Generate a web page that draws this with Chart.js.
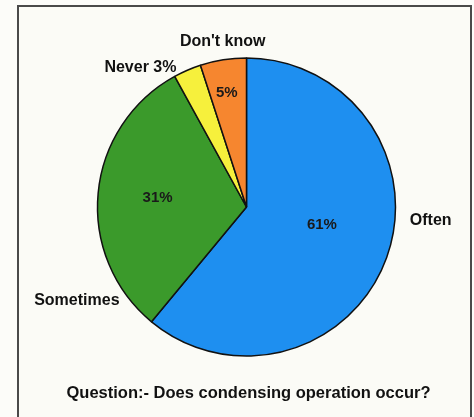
<!DOCTYPE html>
<html>
<head>
<meta charset="utf-8">
<script src="https://cdn.jsdelivr.net/npm/chart.js@4.4.0/dist/chart.umd.min.js"></script>
<style>
  html, body { margin: 0; padding: 0; background: #fcfcf9; }
  #wrap { position: relative; width: 474px; height: 417px; overflow: hidden; }
  #frame {
    position: absolute; left: 17px; top: 5px; width: 455px; height: 420px;
    border: 2px solid #4a4a4a; box-sizing: border-box; background: #fbfbf6;
  }
  canvas { position: absolute; left: 0; top: 0; }
</style>
</head>
<body>
<div id="wrap">
  <div id="frame"></div>
  <canvas id="pieChart" width="474" height="417"></canvas>
</div>
<script>
// Survey answers, clockwise from 12 o'clock
const categories = ['Often', 'Sometimes', 'Never', "Don't know"];
const shares = [61, 31, 3, 5];
const sliceColors = ['#1e8ff0', '#3b9a2b', '#f6f03c', '#f6862f'];
const outsideLabels = ['Often', 'Sometimes', 'Never 3%', "Don't know"];
const insideLabels = ['61%', '31%', '', '5%'];
const question = 'Question:- Does condensing operation occur?';

// Draws the text labels from each arc's own geometry
const pieLabels = {
    id: 'pieLabels',
    afterDatasetsDraw(chart, args, opts) {
        const ctx = chart.ctx;
        const arcs = chart.getDatasetMeta(0).data;
        ctx.save();
        ctx.textBaseline = 'middle';
        arcs.forEach(function (arc, i) {
            const p = arc.getProps(['x', 'y', 'startAngle', 'endAngle', 'outerRadius'], true);
            const mid = (p.startAngle + p.endAngle) / 2;
            // inside percentage
            if (insideLabels[i]) {
                const ip = opts.inside[i];
                const a = mid + ip.shift * Math.PI / 180;
                ctx.font = 'bold 15px "Liberation Sans", Arial, sans-serif';
                ctx.fillStyle = '#1a1a1a';
                ctx.textAlign = 'center';
                ctx.fillText(insideLabels[i], p.x + Math.cos(a) * p.outerRadius * ip.dist,
                    p.y + Math.sin(a) * p.outerRadius * ip.dist);
            }
            // category name outside the pie
            const op = opts.outside[i];
            const b = mid + op.shift * Math.PI / 180;
            ctx.font = 'bold 16px "Liberation Sans", Arial, sans-serif';
            ctx.fillStyle = '#111';
            ctx.textAlign = op.align;
            ctx.fillText(outsideLabels[i], p.x + Math.cos(b) * p.outerRadius * op.dist,
                p.y + Math.sin(b) * p.outerRadius * op.dist);
        });
        // question line under the pie
        const c = arcs[0].getProps(['x', 'y', 'outerRadius'], true);
        ctx.font = 'bold 16.5px "Liberation Sans", Arial, sans-serif';
        ctx.fillStyle = '#111';
        ctx.textAlign = 'center';
        ctx.fillText(question, c.x + 2, c.y + c.outerRadius + 37);
        ctx.restore();
    }
};

const ctx = document.getElementById('pieChart').getContext('2d');
const pieChart = new Chart(ctx, {
    type: 'pie',
    data: {
        labels: categories,
        datasets: [{
            data: shares,
            backgroundColor: sliceColors,
            borderColor: '#111',
            borderWidth: 1.5
        }]
    },
    options: {
        responsive: false,
        animation: false,
        radius: 149,
        layout: { padding: { left: 97, right: 78, top: 57, bottom: 60 } },
        plugins: {
            legend: { display: false },
            tooltip: { enabled: false },
            pieLabels: {
                inside: [
                    { dist: 0.52, shift: -6.5 },
                    { dist: 0.6, shift: 0.6 },
                    { dist: 0, shift: 0 },
                    { dist: 0.78, shift: -0.8 }
                ],
                outside: [
                    { dist: 1.1, shift: -15, align: 'left' },
                    { dist: 1.06, shift: -41.9, align: 'right' },
                    { dist: 1.05, shift: -3.2, align: 'right' },
                    { dist: 1.12, shift: 0.8, align: 'center' }
                ]
            }
        }
    },
    plugins: [pieLabels]
});
</script>
</body>
</html>
